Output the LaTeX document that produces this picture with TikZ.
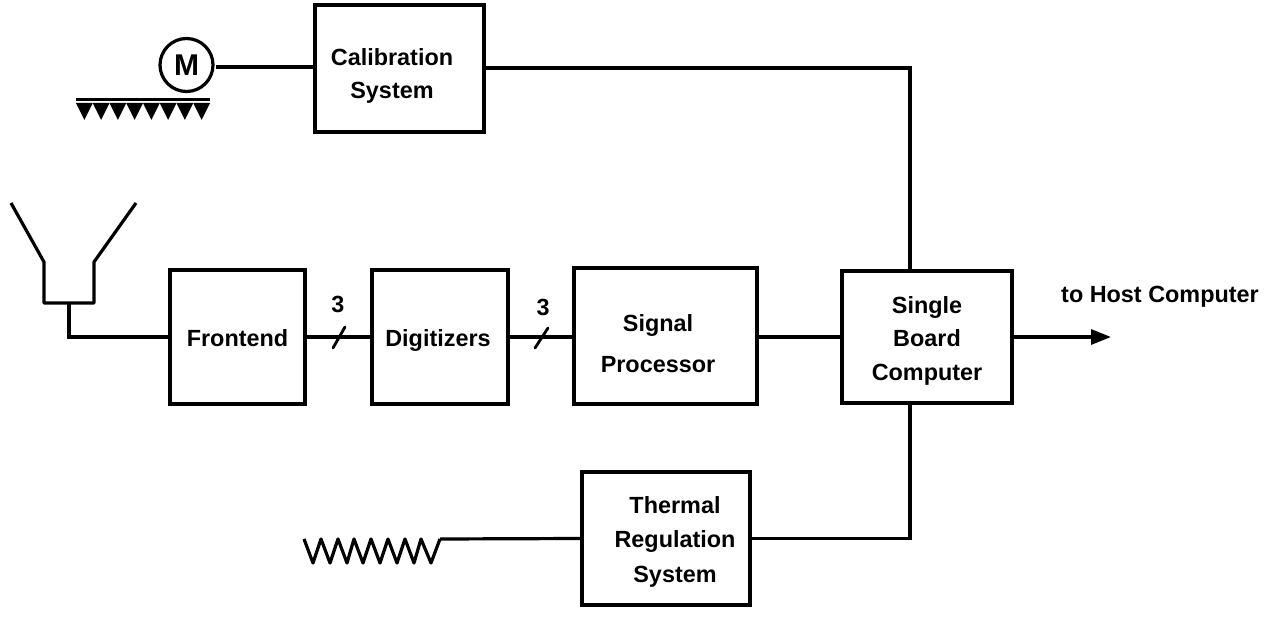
\documentclass[tikz,border=0pt]{standalone}
\usepackage{fontspec}
\setmainfont{Liberation Sans}
\usetikzlibrary{arrows.meta,calc}
\tikzset{
  blockbox/.style={draw=black,line width=3.2pt,inner sep=0pt},
  blocktext/.style={inner sep=0pt,align=center,font=\fontsize{23.4}{#1}\selectfont\bfseries},
  blocktext/.default=33.5pt,
  wire/.style={draw=black,line width=3.2pt,line join=miter},
  thinwire/.style={draw=black,line width=2.8pt,line cap=round},
  tag/.style={inner sep=0pt,font=\fontsize{23.4}{27}\selectfont\bfseries}
}
\begin{document}
\begin{tikzpicture}[x=1pt,y=-1pt]
\useasboundingbox (0,0) rectangle (1271,617);
\node[blockbox,minimum width=169pt,minimum height=127pt,label={[blocktext,xshift=-7.5pt,yshift=-7.5pt]center:{Calibration\\System}}] (cal) at (399.5,68.5) {};
\node[blockbox,minimum width=135pt,minimum height=134pt,label={[blocktext,yshift=-1pt]center:{Frontend}}] (fe) at (237.5,337) {};
\node[blockbox,minimum width=136pt,minimum height=134pt,label={[blocktext,xshift=-2pt,yshift=-4pt]center:{Digitizers}}] (dig) at (440,337) {};
\node[blockbox,minimum width=183pt,minimum height=136pt,label={[blocktext=41pt,xshift=-7.5pt,yshift=-8pt]center:{Signal\\Processor}}] (sp) at (665.5,336) {};
\node[blockbox,minimum width=170pt,minimum height=132pt,label={[blocktext,yshift=-3.5pt]center:{Single\\Board\\Computer}}] (sbc) at (927,337) {};
\node[blockbox,minimum width=168pt,minimum height=133pt,label={[blocktext=34.5pt,xshift=9pt,yshift=-3pt]center:{Thermal\\Regulation\\System}}] (th) at (666,538.5) {};
\node[draw=black,line width=3.2pt,circle,minimum size=53pt,inner sep=0pt,font=\fontsize{30}{32}\selectfont\bfseries] (motor) at (186.5,65) {M};
\node[tag] (n1) at (338,304) {3};
\node[tag] (n2) at (543,307) {3};
\node[tag,anchor=west] (host) at (1061,297) {to Host Computer};
% calibration
\coordinate (caltap) at (910,271);
\coordinate (thtap) at (910,403);
\coordinate (motorin) at (315,67);
\coordinate (motorout) at (216,67);
\draw[wire] (motorout) -- (motorin);
\draw[wire] (cal.east |- 0,68) -| (caltap);
\draw[wire] (th.east) -| (thtap);
% main chain
\draw[wire] (fe.east) -- (dig.west);
\draw[wire] (dig.east) -- (dig.east -| sp.west);
\draw[wire] (sp.east |- sbc.west) -- (sbc.west);
\coordinate (arrowend) at (1111,337);
\draw[wire,-{Triangle[length=20pt,width=15pt]}] (sbc.east) -- (arrowend);
\coordinate (s1a) at (333,348); \coordinate (s1b) at (345,327);
\coordinate (s2a) at (535,348); \coordinate (s2b) at (548,328);
\draw[thinwire] (s1a) -- (s1b);
\draw[thinwire] (s2a) -- (s2b);
% horn
\coordinate (hornL) at (11,203); \coordinate (hornR) at (136,203);
\coordinate (stem) at (69,303);
\draw[wire,line join=round] (hornL) -- (44,262) -- (44,303) -- (94,303) -- (94,262) -- (hornR);
\draw[wire] (stem) |- (fe.west);
% ground
\draw[line width=3.4pt] (76,99.5) -- (210,99.5);
\foreach \i in {0,...,7}{
  \fill[black] ({76+\i*16.75},103) -- ({76+(\i+1)*16.75},103) -- ({76+(\i+.5)*16.75},120) -- cycle;
}
% resistor
\coordinate (rstart) at (304,539);
\coordinate (rend) at (440,539);
\draw[wire,line join=round] (rstart)
  -- (313,563) -- (321,539) -- (330,563) -- (338,539) -- (347,563) -- (354,539)
  -- (363,563) -- (371,539) -- (380,563) -- (388,539) -- (397,563) -- (405,539)
  -- (414,563) -- (421,539) -- (431,563) -- (rend);
\draw[wire] (rend) -- (th.west);
\end{tikzpicture}
\end{document}
